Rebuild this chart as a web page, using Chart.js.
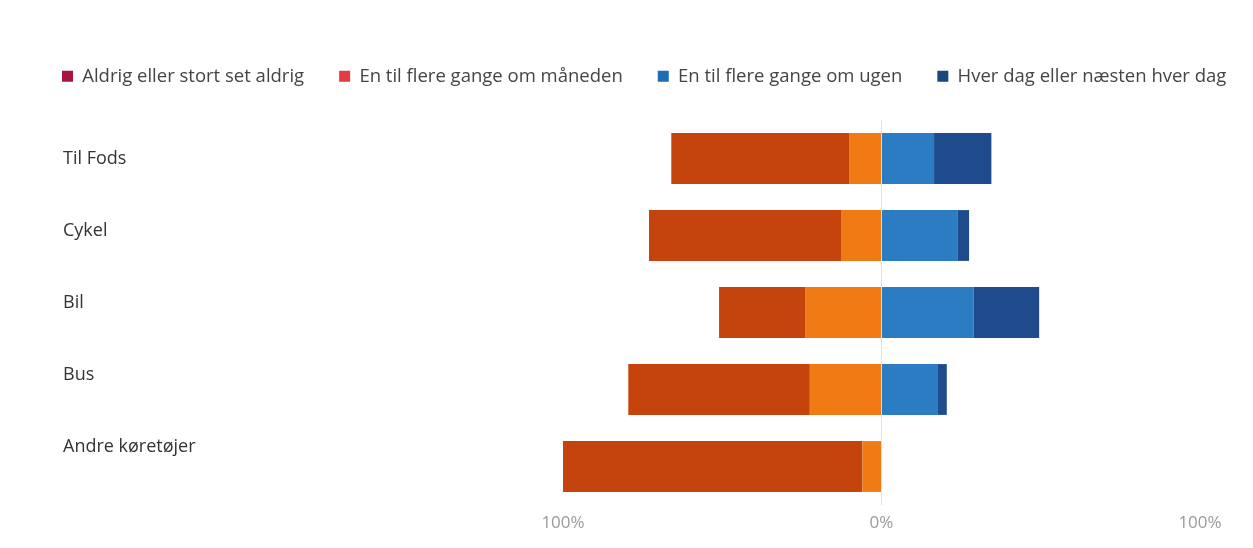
<!DOCTYPE html>
<html>
<head>
<meta charset="utf-8">
<title>Transportmidler</title>
<script src="https://cdn.jsdelivr.net/npm/chart.js@4.4.1/dist/chart.umd.min.js"></script>
<style>
  html, body { margin: 0; padding: 0; background: #ffffff; }
  #wrap { position: relative; width: 1253px; height: 548px; }
</style>
</head>
<body>
<div id="wrap"><canvas id="chart"></canvas></div>
<script>
// Kategorier (rækker) og andele i procent pr. svarmulighed
const categories = ['Til Fods', 'Cykel', 'Bil', 'Bus', 'Andre køretøjer'];
const seriesNames = [
  'Aldrig eller stort set aldrig',
  'En til flere gange om måneden',
  'En til flere gange om ugen',
  'Hver dag eller næsten hver dag'
];
const aldrig  = [56, 60.5, 27, 57, 94];
const maaned  = [10, 12.5, 24, 22.5, 6];
const ugen    = [16.5, 24, 29, 17.5, 0];
const hverDag = [18, 3.5, 20.5, 3, 0];
const xTickValues = [-100, 0, 100];

// Farver: søjler og forklaringens farvefelter
const barColors    = ['#c5430d', '#f07a14', '#2b7cc2', '#1d4b8b'];
const legendColors = ['#a8163f', '#e23c40', '#1f6db3', '#15497d'];

const FONT = "'Open Sans', 'Noto Sans', sans-serif";
Chart.defaults.font.family = FONT;

// Negative svar stables mod venstre fra 0; "måneden" skal ligge nærmest nul
const datasets = [
  { label: seriesNames[1], data: maaned.map(v => -v), backgroundColor: barColors[1] },
  { label: seriesNames[0], data: aldrig.map(v => -v), backgroundColor: barColors[0] },
  { label: seriesNames[2], data: ugen, backgroundColor: barColors[2] },
  { label: seriesNames[3], data: hverDag, backgroundColor: barColors[3] }
];
// Rækkefølge i forklaringen (datasæt-indeks)
const legendOrder = [1, 0, 2, 3];

// Usynlige akser der kun reserverer plads i layoutet
const spacer = (pos, size) => ({
  type: 'linear',
  position: pos,
  display: true,
  offset: false,
  ticks: { display: false },
  grid: { display: false, drawTicks: false },
  border: { display: false },
  afterFit: s => {
    if (pos === 'left' || pos === 'right') s.width = size; else s.height = size;
  }
});

new Chart(document.getElementById('chart'), {
  type: 'bar',
  data: { labels: categories, datasets },
  options: {
    indexAxis: 'y',
    responsive: true,
    maintainAspectRatio: false,
    animation: false,
    layout: { padding: { left: 27, right: -40, top: 32, bottom: 0 } },
    datasets: { bar: { barPercentage: 0.66, categoryPercentage: 1 } },
    plugins: {
      tooltip: { enabled: false },
      legend: {
        position: 'top',
        align: 'start',
        labels: {
          boxWidth: 11,
          boxHeight: 11,
          padding: 35,
          color: '#444444',
          font: { size: 18.5 },
          generateLabels: chart => legendOrder.map((dsIndex, k) => ({
            text: chart.data.datasets[dsIndex].label,
            fillStyle: legendColors[k],
            strokeStyle: legendColors[k],
            lineWidth: 0,
            fontColor: '#444444',
            hidden: !chart.isDatasetVisible(dsIndex),
            datasetIndex: dsIndex
          }))
        }
      }
    },
    scales: {
      x: {
        type: 'linear',
        stacked: true,
        min: -100,
        max: 100,
        position: 'bottom',
        z: 1,
        afterBuildTicks: s => { s.ticks = xTickValues.map(v => ({ value: v })); },
        ticks: {
          callback: v => Math.abs(v) + '%',
          color: '#9a9a9a',
          font: { size: 17 },
          padding: 8,
          maxRotation: 0
        },
        grid: {
          drawTicks: false,
          lineWidth: 1,
          color: c => (c.tick && c.tick.value === 0) ? 'rgba(222,222,222,0.9)' : 'rgba(0,0,0,0)'
        },
        border: { display: false },
        afterFit: s => { s.height = 43; }
      },
      xTop: spacer('top', 24.5),
      y: {
        type: 'category',
        labels: categories,
        stacked: true,
        display: false
      },
      yLabels: {
        type: 'linear',
        position: 'left',
        reverse: true,
        offset: false,
        min: -0.5445,
        max: 4.8025,
        weight: 0,
        afterBuildTicks: s => { s.ticks = categories.map((_, i) => ({ value: i })); },
        ticks: {
          callback: v => categories[v],
          crossAlign: 'far',
          color: '#333333',
          font: { size: 18 },
          autoSkip: false
        },
        grid: { display: false, drawTicks: false },
        border: { display: false },
        afterFit: s => { s.width = 500; }
      },
      padLeft: Object.assign(spacer('left', 36), { weight: 1 }),
      padRight: spacer('right', 93)
    }
  }
});
</script>
</body>
</html>
